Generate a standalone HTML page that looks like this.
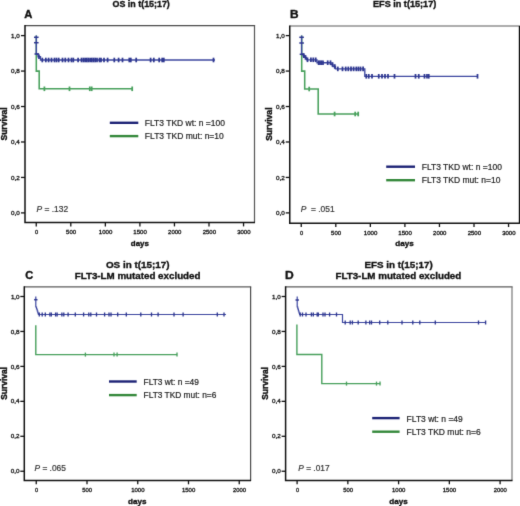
<!DOCTYPE html>
<html><head><meta charset="utf-8">
<style>
html,body{margin:0;padding:0;background:#fff;}
body{width:520px;height:506px;overflow:hidden;}
svg{display:block;font-family:'Liberation Sans', sans-serif;will-change:transform;}
</style></head>
<body>
<svg width="520" height="506" viewBox="0 0 520 506">
<defs><filter id="soft" x="0" y="0" width="520" height="506" filterUnits="userSpaceOnUse" color-interpolation-filters="sRGB"><feConvolveMatrix order="3" kernelMatrix="0.0100 0.0800 0.0100 0.0800 0.6400 0.0800 0.0100 0.0800 0.0100" edgeMode="duplicate" preserveAlpha="true"/></filter></defs>
<g filter="url(#soft)">
<rect width="520" height="506" fill="#fff"/>
<line x1="25" y1="25.6" x2="255.1" y2="25.6" stroke="#4a4a4a" stroke-width="1.2"/>
<line x1="254.5" y1="25.6" x2="254.5" y2="222.6" stroke="#555" stroke-width="1.2"/>
<path d="M25,25.0 V222.6 H255.0" fill="none" stroke="#111" stroke-width="1.5"/>
<line x1="21" y1="35.60" x2="25" y2="35.60" stroke="#111" stroke-width="1.3"/>
<text transform="translate(11.08,37.7) scale(1.0452,1)" font-size="6.0" font-weight="normal" fill="#151515" stroke="#151515" stroke-width="0.32" xml:space="preserve" >1,0</text>
<line x1="21" y1="71.06" x2="25" y2="71.06" stroke="#111" stroke-width="1.3"/>
<text transform="translate(11.00,73.16) scale(1.0545,1)" font-size="6.0" font-weight="normal" fill="#151515" stroke="#151515" stroke-width="0.32" xml:space="preserve" >0,8</text>
<line x1="21" y1="106.52" x2="25" y2="106.52" stroke="#111" stroke-width="1.3"/>
<text transform="translate(11.00,108.62) scale(1.0545,1)" font-size="6.0" font-weight="normal" fill="#151515" stroke="#151515" stroke-width="0.32" xml:space="preserve" >0,6</text>
<line x1="21" y1="141.98" x2="25" y2="141.98" stroke="#111" stroke-width="1.3"/>
<text transform="translate(11.00,144.08) scale(1.0545,1)" font-size="6.0" font-weight="normal" fill="#151515" stroke="#151515" stroke-width="0.32" xml:space="preserve" >0,4</text>
<line x1="21" y1="177.44" x2="25" y2="177.44" stroke="#111" stroke-width="1.3"/>
<text transform="translate(11.00,179.54) scale(1.0545,1)" font-size="6.0" font-weight="normal" fill="#151515" stroke="#151515" stroke-width="0.32" xml:space="preserve" >0,2</text>
<line x1="21" y1="212.90" x2="25" y2="212.90" stroke="#111" stroke-width="1.3"/>
<text transform="translate(11.00,215.0) scale(1.0545,1)" font-size="6.0" font-weight="normal" fill="#151515" stroke="#151515" stroke-width="0.32" xml:space="preserve" >0,0</text>
<line x1="36.25" y1="222.6" x2="36.25" y2="226.4" stroke="#111" stroke-width="1.3"/>
<text transform="translate(35.10,234.0) scale(0.9538,1)" font-size="6.0" font-weight="normal" fill="#151515" stroke="#151515" stroke-width="0.32" xml:space="preserve" >0</text>
<line x1="70.80" y1="222.6" x2="70.80" y2="226.4" stroke="#111" stroke-width="1.3"/>
<text transform="translate(66.10,234.0) scale(0.9949,1)" font-size="6.0" font-weight="normal" fill="#151515" stroke="#151515" stroke-width="0.32" xml:space="preserve" >500</text>
<line x1="105.35" y1="222.6" x2="105.35" y2="226.4" stroke="#111" stroke-width="1.3"/>
<text transform="translate(98.74,234.0) scale(1.0196,1)" font-size="6.0" font-weight="normal" fill="#151515" stroke="#151515" stroke-width="0.32" xml:space="preserve" >1000</text>
<line x1="139.90" y1="222.6" x2="139.90" y2="226.4" stroke="#111" stroke-width="1.3"/>
<text transform="translate(133.29,234.0) scale(1.0196,1)" font-size="6.0" font-weight="normal" fill="#151515" stroke="#151515" stroke-width="0.32" xml:space="preserve" >1500</text>
<line x1="174.45" y1="222.6" x2="174.45" y2="226.4" stroke="#111" stroke-width="1.3"/>
<text transform="translate(168.10,234.0) scale(1.0000,1)" font-size="6.0" font-weight="normal" fill="#151515" stroke="#151515" stroke-width="0.32" xml:space="preserve" >2000</text>
<line x1="209.00" y1="222.6" x2="209.00" y2="226.4" stroke="#111" stroke-width="1.3"/>
<text transform="translate(202.65,234.0) scale(1.0000,1)" font-size="6.0" font-weight="normal" fill="#151515" stroke="#151515" stroke-width="0.32" xml:space="preserve" >2500</text>
<line x1="243.55" y1="222.6" x2="243.55" y2="226.4" stroke="#111" stroke-width="1.3"/>
<text transform="translate(237.20,234.0) scale(1.0000,1)" font-size="6.0" font-weight="normal" fill="#151515" stroke="#151515" stroke-width="0.32" xml:space="preserve" >3000</text>
<text transform="translate(130.81,246) scale(0.9915,1)" font-size="8.0" font-weight="bold" fill="#111" stroke="#111" stroke-width="0.35" xml:space="preserve" >days</text>
<text transform="translate(6.9,140.55) rotate(-90) scale(1.0156,1)" font-size="8.4" font-weight="bold" fill="#111" stroke="#111" stroke-width="0.4">Survival</text>
<text transform="translate(24.14,17.7) scale(1.0483,1)" font-size="10.7" font-weight="bold" fill="#111" stroke="#111" stroke-width="0.35" xml:space="preserve" >A</text>
<text transform="translate(112.55,6.5) scale(0.9878,1)" font-size="9.0" font-weight="bold" fill="#111" stroke="#111" stroke-width="0.35" xml:space="preserve" >OS in t(15;17)</text>
<text transform="translate(36.46,212.0) scale(0.9631,1)" font-size="8.8" font-weight="normal" fill="#333" stroke="#333" stroke-width="0.2" xml:space="preserve" ><tspan font-style="italic">P</tspan> = .132</text>
<line x1="109.8" y1="122.8" x2="138.3" y2="122.8" stroke="#1c2275" stroke-width="2.4"/>
<line x1="109.8" y1="136.1" x2="138.3" y2="136.1" stroke="#34883a" stroke-width="2.4"/>
<text transform="translate(144.82,126.3) scale(0.9666,1)" font-size="8.8" font-weight="normal" fill="#222" stroke="#222" stroke-width="0.2" xml:space="preserve" >FLT3 TKD wt: n =100</text>
<text transform="translate(144.82,138.8) scale(0.9691,1)" font-size="8.8" font-weight="normal" fill="#222" stroke="#222" stroke-width="0.2" xml:space="preserve" >FLT3 TKD mut: n=10</text>
<path d="M36.3,35.6 V71.1 H39.2 V88.8 H132.5" fill="none" stroke="#48a05c" stroke-width="1.55"/>
<line x1="44.4" y1="86.5" x2="44.4" y2="91.1" stroke="#48a05c" stroke-width="1.75"/>
<line x1="69.5" y1="86.5" x2="69.5" y2="91.1" stroke="#48a05c" stroke-width="1.75"/>
<line x1="89.8" y1="86.5" x2="89.8" y2="91.1" stroke="#48a05c" stroke-width="1.75"/>
<line x1="91.7" y1="86.5" x2="91.7" y2="91.1" stroke="#48a05c" stroke-width="1.75"/>
<line x1="132.2" y1="86.5" x2="132.2" y2="91.1" stroke="#48a05c" stroke-width="1.75"/>
<path d="M36.3,35.6 V54.0 H38 V56.7 H40.5 V60 H215" fill="none" stroke="#3d47a0" stroke-width="1.35"/>
<line x1="42.3" y1="57.7" x2="42.3" y2="62.3" stroke="#2e3790" stroke-width="1.75"/>
<line x1="45.8" y1="57.7" x2="45.8" y2="62.3" stroke="#2e3790" stroke-width="1.75"/>
<line x1="48.6" y1="57.7" x2="48.6" y2="62.3" stroke="#2e3790" stroke-width="1.75"/>
<line x1="51.5" y1="57.7" x2="51.5" y2="62.3" stroke="#2e3790" stroke-width="1.75"/>
<line x1="54.5" y1="57.7" x2="54.5" y2="62.3" stroke="#2e3790" stroke-width="1.75"/>
<line x1="56.5" y1="57.7" x2="56.5" y2="62.3" stroke="#2e3790" stroke-width="1.75"/>
<line x1="58.7" y1="57.7" x2="58.7" y2="62.3" stroke="#2e3790" stroke-width="1.75"/>
<line x1="62.5" y1="57.7" x2="62.5" y2="62.3" stroke="#2e3790" stroke-width="1.75"/>
<line x1="65.3" y1="57.7" x2="65.3" y2="62.3" stroke="#2e3790" stroke-width="1.75"/>
<line x1="68.5" y1="57.7" x2="68.5" y2="62.3" stroke="#2e3790" stroke-width="1.75"/>
<line x1="71.5" y1="57.7" x2="71.5" y2="62.3" stroke="#2e3790" stroke-width="1.75"/>
<line x1="73.3" y1="57.7" x2="73.3" y2="62.3" stroke="#2e3790" stroke-width="1.75"/>
<line x1="78.1" y1="57.7" x2="78.1" y2="62.3" stroke="#2e3790" stroke-width="1.75"/>
<line x1="81.5" y1="57.7" x2="81.5" y2="62.3" stroke="#2e3790" stroke-width="1.75"/>
<line x1="83.4" y1="57.7" x2="83.4" y2="62.3" stroke="#2e3790" stroke-width="1.75"/>
<line x1="85.1" y1="57.7" x2="85.1" y2="62.3" stroke="#2e3790" stroke-width="1.75"/>
<line x1="86.7" y1="57.7" x2="86.7" y2="62.3" stroke="#2e3790" stroke-width="1.75"/>
<line x1="88.3" y1="57.7" x2="88.3" y2="62.3" stroke="#2e3790" stroke-width="1.75"/>
<line x1="90.1" y1="57.7" x2="90.1" y2="62.3" stroke="#2e3790" stroke-width="1.75"/>
<line x1="91.8" y1="57.7" x2="91.8" y2="62.3" stroke="#2e3790" stroke-width="1.75"/>
<line x1="93.5" y1="57.7" x2="93.5" y2="62.3" stroke="#2e3790" stroke-width="1.75"/>
<line x1="95.2" y1="57.7" x2="95.2" y2="62.3" stroke="#2e3790" stroke-width="1.75"/>
<line x1="97" y1="57.7" x2="97" y2="62.3" stroke="#2e3790" stroke-width="1.75"/>
<line x1="99.5" y1="57.7" x2="99.5" y2="62.3" stroke="#2e3790" stroke-width="1.75"/>
<line x1="101" y1="57.7" x2="101" y2="62.3" stroke="#2e3790" stroke-width="1.75"/>
<line x1="104" y1="57.7" x2="104" y2="62.3" stroke="#2e3790" stroke-width="1.75"/>
<line x1="107.6" y1="57.7" x2="107.6" y2="62.3" stroke="#2e3790" stroke-width="1.75"/>
<line x1="114.3" y1="57.7" x2="114.3" y2="62.3" stroke="#2e3790" stroke-width="1.75"/>
<line x1="118.6" y1="57.7" x2="118.6" y2="62.3" stroke="#2e3790" stroke-width="1.75"/>
<line x1="122.5" y1="57.7" x2="122.5" y2="62.3" stroke="#2e3790" stroke-width="1.75"/>
<line x1="129.3" y1="57.7" x2="129.3" y2="62.3" stroke="#2e3790" stroke-width="1.75"/>
<line x1="130.8" y1="57.7" x2="130.8" y2="62.3" stroke="#2e3790" stroke-width="1.75"/>
<line x1="136.2" y1="57.7" x2="136.2" y2="62.3" stroke="#2e3790" stroke-width="1.75"/>
<line x1="150.6" y1="57.7" x2="150.6" y2="62.3" stroke="#2e3790" stroke-width="1.75"/>
<line x1="153.8" y1="57.7" x2="153.8" y2="62.3" stroke="#2e3790" stroke-width="1.75"/>
<line x1="159.2" y1="57.7" x2="159.2" y2="62.3" stroke="#2e3790" stroke-width="1.75"/>
<line x1="162.2" y1="57.7" x2="162.2" y2="62.3" stroke="#2e3790" stroke-width="1.75"/>
<line x1="163.8" y1="57.7" x2="163.8" y2="62.3" stroke="#2e3790" stroke-width="1.75"/>
<line x1="213.5" y1="57.7" x2="213.5" y2="62.3" stroke="#2e3790" stroke-width="1.75"/>
<line x1="39" y1="54.400000000000006" x2="39" y2="59.0" stroke="#2e3790" stroke-width="1.75"/>
<line x1="34.0" y1="37.3" x2="38.599999999999994" y2="37.3" stroke="#2e3790" stroke-width="1.5"/>
<line x1="34.0" y1="42.7" x2="38.599999999999994" y2="42.7" stroke="#2e3790" stroke-width="1.5"/>
<line x1="34.5" y1="54.0" x2="39.099999999999994" y2="54.0" stroke="#2e3790" stroke-width="1.5"/>
<line x1="289.75" y1="26.0" x2="520.0" y2="26.0" stroke="#5a5a5a" stroke-width="1.2"/>
<line x1="519.4" y1="26.0" x2="519.4" y2="223.2" stroke="#111" stroke-width="1.2"/>
<path d="M289.75,25.4 V223.2 H519.9" fill="none" stroke="#111" stroke-width="1.5"/>
<line x1="285.75" y1="35.60" x2="289.75" y2="35.60" stroke="#111" stroke-width="1.3"/>
<text transform="translate(276.08,37.7) scale(1.0452,1)" font-size="6.0" font-weight="normal" fill="#151515" stroke="#151515" stroke-width="0.32" xml:space="preserve" >1,0</text>
<line x1="285.75" y1="71.06" x2="289.75" y2="71.06" stroke="#111" stroke-width="1.3"/>
<text transform="translate(276.00,73.16) scale(1.0545,1)" font-size="6.0" font-weight="normal" fill="#151515" stroke="#151515" stroke-width="0.32" xml:space="preserve" >0,8</text>
<line x1="285.75" y1="106.52" x2="289.75" y2="106.52" stroke="#111" stroke-width="1.3"/>
<text transform="translate(276.00,108.62) scale(1.0545,1)" font-size="6.0" font-weight="normal" fill="#151515" stroke="#151515" stroke-width="0.32" xml:space="preserve" >0,6</text>
<line x1="285.75" y1="141.98" x2="289.75" y2="141.98" stroke="#111" stroke-width="1.3"/>
<text transform="translate(276.00,144.08) scale(1.0545,1)" font-size="6.0" font-weight="normal" fill="#151515" stroke="#151515" stroke-width="0.32" xml:space="preserve" >0,4</text>
<line x1="285.75" y1="177.44" x2="289.75" y2="177.44" stroke="#111" stroke-width="1.3"/>
<text transform="translate(276.00,179.54) scale(1.0545,1)" font-size="6.0" font-weight="normal" fill="#151515" stroke="#151515" stroke-width="0.32" xml:space="preserve" >0,2</text>
<line x1="285.75" y1="212.90" x2="289.75" y2="212.90" stroke="#111" stroke-width="1.3"/>
<text transform="translate(276.00,215.0) scale(1.0545,1)" font-size="6.0" font-weight="normal" fill="#151515" stroke="#151515" stroke-width="0.32" xml:space="preserve" >0,0</text>
<line x1="301.25" y1="223.2" x2="301.25" y2="227.0" stroke="#111" stroke-width="1.3"/>
<text transform="translate(300.10,234.5) scale(0.9538,1)" font-size="6.0" font-weight="normal" fill="#151515" stroke="#151515" stroke-width="0.32" xml:space="preserve" >0</text>
<line x1="335.80" y1="223.2" x2="335.80" y2="227.0" stroke="#111" stroke-width="1.3"/>
<text transform="translate(331.10,234.5) scale(0.9949,1)" font-size="6.0" font-weight="normal" fill="#151515" stroke="#151515" stroke-width="0.32" xml:space="preserve" >500</text>
<line x1="370.35" y1="223.2" x2="370.35" y2="227.0" stroke="#111" stroke-width="1.3"/>
<text transform="translate(363.74,234.5) scale(1.0196,1)" font-size="6.0" font-weight="normal" fill="#151515" stroke="#151515" stroke-width="0.32" xml:space="preserve" >1000</text>
<line x1="404.90" y1="223.2" x2="404.90" y2="227.0" stroke="#111" stroke-width="1.3"/>
<text transform="translate(398.29,234.5) scale(1.0196,1)" font-size="6.0" font-weight="normal" fill="#151515" stroke="#151515" stroke-width="0.32" xml:space="preserve" >1500</text>
<line x1="439.45" y1="223.2" x2="439.45" y2="227.0" stroke="#111" stroke-width="1.3"/>
<text transform="translate(433.10,234.5) scale(1.0000,1)" font-size="6.0" font-weight="normal" fill="#151515" stroke="#151515" stroke-width="0.32" xml:space="preserve" >2000</text>
<line x1="474.00" y1="223.2" x2="474.00" y2="227.0" stroke="#111" stroke-width="1.3"/>
<text transform="translate(467.65,234.5) scale(1.0000,1)" font-size="6.0" font-weight="normal" fill="#151515" stroke="#151515" stroke-width="0.32" xml:space="preserve" >2500</text>
<line x1="508.55" y1="223.2" x2="508.55" y2="227.0" stroke="#111" stroke-width="1.3"/>
<text transform="translate(502.20,234.5) scale(1.0000,1)" font-size="6.0" font-weight="normal" fill="#151515" stroke="#151515" stroke-width="0.32" xml:space="preserve" >3000</text>
<text transform="translate(395.35,246.3) scale(1.0141,1)" font-size="8.0" font-weight="bold" fill="#111" stroke="#111" stroke-width="0.35" xml:space="preserve" >days</text>
<text transform="translate(271.9,140.86) rotate(-90) scale(1.0219,1)" font-size="8.4" font-weight="bold" fill="#111" stroke="#111" stroke-width="0.4">Survival</text>
<text transform="translate(290.04,17.5) scale(1.1111,1)" font-size="10.7" font-weight="bold" fill="#111" stroke="#111" stroke-width="0.35" xml:space="preserve" >B</text>
<text transform="translate(372.99,6.6) scale(1.0138,1)" font-size="9.0" font-weight="bold" fill="#111" stroke="#111" stroke-width="0.35" xml:space="preserve" >EFS in t(15;17)</text>
<text transform="translate(300.76,212.4) scale(0.9543,1)" font-size="8.8" font-weight="normal" fill="#333" stroke="#333" stroke-width="0.2" xml:space="preserve" ><tspan font-style="italic">P</tspan>  = .051</text>
<line x1="386.2" y1="166.7" x2="415.0" y2="166.7" stroke="#1c2275" stroke-width="2.4"/>
<line x1="386.2" y1="180.2" x2="415.0" y2="180.2" stroke="#34883a" stroke-width="2.4"/>
<text transform="translate(421.72,170.4) scale(0.9666,1)" font-size="8.8" font-weight="normal" fill="#222" stroke="#222" stroke-width="0.2" xml:space="preserve" >FLT3 TKD wt: n =100</text>
<text transform="translate(421.72,182.8) scale(0.9654,1)" font-size="8.8" font-weight="normal" fill="#222" stroke="#222" stroke-width="0.2" xml:space="preserve" >FLT3 TKD mut: n=10</text>
<path d="M301.7,35.6 V71.1 H304.7 V89 H318.2 V114 H358.6" fill="none" stroke="#48a05c" stroke-width="1.55"/>
<line x1="309.2" y1="86.7" x2="309.2" y2="91.3" stroke="#48a05c" stroke-width="1.75"/>
<line x1="334.6" y1="111.7" x2="334.6" y2="116.3" stroke="#48a05c" stroke-width="1.75"/>
<line x1="355.2" y1="111.7" x2="355.2" y2="116.3" stroke="#48a05c" stroke-width="1.75"/>
<line x1="358.2" y1="111.7" x2="358.2" y2="116.3" stroke="#48a05c" stroke-width="1.75"/>
<path d="M301.6,35.6 V54 H303 V55.7 H304.5 V57.4 H306.5 V59.8 H317 V62.7 H331 V64.5 H333 V66.5 H335.5 V68.9 H364.8 V76.3 H477.7" fill="none" stroke="#3d47a0" stroke-width="1.35"/>
<line x1="303.8" y1="53.400000000000006" x2="303.8" y2="58.0" stroke="#2e3790" stroke-width="1.75"/>
<line x1="305.5" y1="55.1" x2="305.5" y2="59.699999999999996" stroke="#2e3790" stroke-width="1.75"/>
<line x1="307.5" y1="57.5" x2="307.5" y2="62.099999999999994" stroke="#2e3790" stroke-width="1.75"/>
<line x1="310.9" y1="57.5" x2="310.9" y2="62.099999999999994" stroke="#2e3790" stroke-width="1.75"/>
<line x1="313.3" y1="57.5" x2="313.3" y2="62.099999999999994" stroke="#2e3790" stroke-width="1.75"/>
<line x1="315.7" y1="57.5" x2="315.7" y2="62.099999999999994" stroke="#2e3790" stroke-width="1.75"/>
<line x1="318.6" y1="60.400000000000006" x2="318.6" y2="65.0" stroke="#2e3790" stroke-width="1.75"/>
<line x1="320" y1="60.400000000000006" x2="320" y2="65.0" stroke="#2e3790" stroke-width="1.75"/>
<line x1="321.5" y1="60.400000000000006" x2="321.5" y2="65.0" stroke="#2e3790" stroke-width="1.75"/>
<line x1="323" y1="60.400000000000006" x2="323" y2="65.0" stroke="#2e3790" stroke-width="1.75"/>
<line x1="327.7" y1="60.400000000000006" x2="327.7" y2="65.0" stroke="#2e3790" stroke-width="1.75"/>
<line x1="330.5" y1="60.400000000000006" x2="330.5" y2="65.0" stroke="#2e3790" stroke-width="1.75"/>
<line x1="332.5" y1="62.2" x2="332.5" y2="66.8" stroke="#2e3790" stroke-width="1.75"/>
<line x1="334.8" y1="64.2" x2="334.8" y2="68.8" stroke="#2e3790" stroke-width="1.75"/>
<line x1="337.8" y1="66.60000000000001" x2="337.8" y2="71.2" stroke="#2e3790" stroke-width="1.75"/>
<line x1="342.5" y1="66.60000000000001" x2="342.5" y2="71.2" stroke="#2e3790" stroke-width="1.75"/>
<line x1="345.7" y1="66.60000000000001" x2="345.7" y2="71.2" stroke="#2e3790" stroke-width="1.75"/>
<line x1="348.3" y1="66.60000000000001" x2="348.3" y2="71.2" stroke="#2e3790" stroke-width="1.75"/>
<line x1="351" y1="66.60000000000001" x2="351" y2="71.2" stroke="#2e3790" stroke-width="1.75"/>
<line x1="353.6" y1="66.60000000000001" x2="353.6" y2="71.2" stroke="#2e3790" stroke-width="1.75"/>
<line x1="356.3" y1="66.60000000000001" x2="356.3" y2="71.2" stroke="#2e3790" stroke-width="1.75"/>
<line x1="358.4" y1="66.60000000000001" x2="358.4" y2="71.2" stroke="#2e3790" stroke-width="1.75"/>
<line x1="360.5" y1="66.60000000000001" x2="360.5" y2="71.2" stroke="#2e3790" stroke-width="1.75"/>
<line x1="363.1" y1="66.60000000000001" x2="363.1" y2="71.2" stroke="#2e3790" stroke-width="1.75"/>
<line x1="366.25" y1="74.0" x2="366.25" y2="78.6" stroke="#2e3790" stroke-width="1.75"/>
<line x1="368.75" y1="74.0" x2="368.75" y2="78.6" stroke="#2e3790" stroke-width="1.75"/>
<line x1="372" y1="74.0" x2="372" y2="78.6" stroke="#2e3790" stroke-width="1.75"/>
<line x1="378.75" y1="74.0" x2="378.75" y2="78.6" stroke="#2e3790" stroke-width="1.75"/>
<line x1="382" y1="74.0" x2="382" y2="78.6" stroke="#2e3790" stroke-width="1.75"/>
<line x1="385" y1="74.0" x2="385" y2="78.6" stroke="#2e3790" stroke-width="1.75"/>
<line x1="388" y1="74.0" x2="388" y2="78.6" stroke="#2e3790" stroke-width="1.75"/>
<line x1="394.5" y1="74.0" x2="394.5" y2="78.6" stroke="#2e3790" stroke-width="1.75"/>
<line x1="415.5" y1="74.0" x2="415.5" y2="78.6" stroke="#2e3790" stroke-width="1.75"/>
<line x1="418.75" y1="74.0" x2="418.75" y2="78.6" stroke="#2e3790" stroke-width="1.75"/>
<line x1="424.5" y1="74.0" x2="424.5" y2="78.6" stroke="#2e3790" stroke-width="1.75"/>
<line x1="427" y1="74.0" x2="427" y2="78.6" stroke="#2e3790" stroke-width="1.75"/>
<line x1="428.75" y1="74.0" x2="428.75" y2="78.6" stroke="#2e3790" stroke-width="1.75"/>
<line x1="477.5" y1="74.0" x2="477.5" y2="78.6" stroke="#2e3790" stroke-width="1.75"/>
<line x1="299.3" y1="37.3" x2="303.90000000000003" y2="37.3" stroke="#2e3790" stroke-width="1.5"/>
<line x1="299.3" y1="43.0" x2="303.90000000000003" y2="43.0" stroke="#2e3790" stroke-width="1.5"/>
<line x1="299.7" y1="54.3" x2="304.3" y2="54.3" stroke="#2e3790" stroke-width="1.5"/>
<line x1="24.3" y1="286.8" x2="251.2" y2="286.8" stroke="#5a5a5a" stroke-width="1.2"/>
<line x1="250.6" y1="286.8" x2="250.6" y2="480.5" stroke="#4a4a4a" stroke-width="1.2"/>
<path d="M24.3,286.2 V480.5 H251.1" fill="none" stroke="#111" stroke-width="1.5"/>
<line x1="20.3" y1="296.50" x2="24.3" y2="296.50" stroke="#111" stroke-width="1.3"/>
<text transform="translate(10.88,298.6) scale(1.0452,1)" font-size="6.0" font-weight="normal" fill="#151515" stroke="#151515" stroke-width="0.32" xml:space="preserve" >1,0</text>
<line x1="20.3" y1="331.45" x2="24.3" y2="331.45" stroke="#111" stroke-width="1.3"/>
<text transform="translate(10.80,333.55) scale(1.0545,1)" font-size="6.0" font-weight="normal" fill="#151515" stroke="#151515" stroke-width="0.32" xml:space="preserve" >0,8</text>
<line x1="20.3" y1="366.40" x2="24.3" y2="366.40" stroke="#111" stroke-width="1.3"/>
<text transform="translate(10.80,368.5) scale(1.0545,1)" font-size="6.0" font-weight="normal" fill="#151515" stroke="#151515" stroke-width="0.32" xml:space="preserve" >0,6</text>
<line x1="20.3" y1="401.35" x2="24.3" y2="401.35" stroke="#111" stroke-width="1.3"/>
<text transform="translate(10.80,403.45) scale(1.0545,1)" font-size="6.0" font-weight="normal" fill="#151515" stroke="#151515" stroke-width="0.32" xml:space="preserve" >0,4</text>
<line x1="20.3" y1="436.30" x2="24.3" y2="436.30" stroke="#111" stroke-width="1.3"/>
<text transform="translate(10.80,438.4) scale(1.0545,1)" font-size="6.0" font-weight="normal" fill="#151515" stroke="#151515" stroke-width="0.32" xml:space="preserve" >0,2</text>
<line x1="20.3" y1="471.25" x2="24.3" y2="471.25" stroke="#111" stroke-width="1.3"/>
<text transform="translate(10.80,473.35) scale(1.0545,1)" font-size="6.0" font-weight="normal" fill="#151515" stroke="#151515" stroke-width="0.32" xml:space="preserve" >0,0</text>
<line x1="36.25" y1="480.5" x2="36.25" y2="484.3" stroke="#111" stroke-width="1.3"/>
<text transform="translate(35.02,492.2) scale(0.9385,1)" font-size="6.0" font-weight="normal" fill="#151515" stroke="#151515" stroke-width="0.32" xml:space="preserve" >0</text>
<line x1="87.00" y1="480.5" x2="87.00" y2="484.3" stroke="#111" stroke-width="1.3"/>
<text transform="translate(82.27,492.2) scale(0.9805,1)" font-size="6.0" font-weight="normal" fill="#151515" stroke="#151515" stroke-width="0.32" xml:space="preserve" >500</text>
<line x1="137.75" y1="480.5" x2="137.75" y2="484.3" stroke="#111" stroke-width="1.3"/>
<text transform="translate(131.15,492.2) scale(1.0039,1)" font-size="6.0" font-weight="normal" fill="#151515" stroke="#151515" stroke-width="0.32" xml:space="preserve" >1000</text>
<line x1="188.50" y1="480.5" x2="188.50" y2="484.3" stroke="#111" stroke-width="1.3"/>
<text transform="translate(181.90,492.2) scale(1.0039,1)" font-size="6.0" font-weight="normal" fill="#151515" stroke="#151515" stroke-width="0.32" xml:space="preserve" >1500</text>
<line x1="239.25" y1="480.5" x2="239.25" y2="484.3" stroke="#111" stroke-width="1.3"/>
<text transform="translate(232.90,492.2) scale(0.9846,1)" font-size="6.0" font-weight="normal" fill="#151515" stroke="#151515" stroke-width="0.32" xml:space="preserve" >2000</text>
<text transform="translate(128.04,504.3) scale(1.0229,1)" font-size="7.9" font-weight="bold" fill="#111" stroke="#111" stroke-width="0.35" xml:space="preserve" >days</text>
<text transform="translate(6.9,399.74) rotate(-90) scale(0.9771,1)" font-size="8.6" font-weight="bold" fill="#111" stroke="#111" stroke-width="0.4">Survival</text>
<text transform="translate(25.34,278.75) scale(1.0345,1)" font-size="10.7" font-weight="bold" fill="#111" stroke="#111" stroke-width="0.35" xml:space="preserve" >C</text>
<text transform="translate(105.95,267.9) scale(0.9984,1)" font-size="9.9" font-weight="bold" fill="#111" stroke="#111" stroke-width="0.35" xml:space="preserve" >OS in t(15;17)</text>
<text transform="translate(74.71,279.2) scale(0.9885,1)" font-size="9.9" font-weight="bold" fill="#111" stroke="#111" stroke-width="0.35" xml:space="preserve" >FLT3-LM mutated excluded</text>
<text transform="translate(34.46,470.7) scale(0.9538,1)" font-size="8.8" font-weight="normal" fill="#333" stroke="#333" stroke-width="0.2" xml:space="preserve" ><tspan font-style="italic">P</tspan> = .065</text>
<line x1="109.0" y1="381.5" x2="136.7" y2="381.5" stroke="#1c2275" stroke-width="2.4"/>
<line x1="109.0" y1="395.1" x2="136.7" y2="395.1" stroke="#34883a" stroke-width="2.4"/>
<text transform="translate(143.52,385.3) scale(0.9522,1)" font-size="8.8" font-weight="normal" fill="#222" stroke="#222" stroke-width="0.2" xml:space="preserve" >FLT3 wt: n =49</text>
<text transform="translate(143.52,398.0) scale(0.9507,1)" font-size="8.8" font-weight="normal" fill="#222" stroke="#222" stroke-width="0.2" xml:space="preserve" >FLT3 TKD mut: n=6</text>
<path d="M35.8,325.3 V354.6 H177.1" fill="none" stroke="#48a05c" stroke-width="1.4"/>
<line x1="85.4" y1="352.6" x2="85.4" y2="356.6" stroke="#48a05c" stroke-width="1.35"/>
<line x1="114" y1="352.6" x2="114" y2="356.6" stroke="#48a05c" stroke-width="1.35"/>
<line x1="117.1" y1="352.6" x2="117.1" y2="356.6" stroke="#48a05c" stroke-width="1.35"/>
<line x1="177" y1="352.6" x2="177" y2="356.6" stroke="#48a05c" stroke-width="1.35"/>
<path d="M35.8,296.5 V307 H36.5 V309 H37.2 V311 H37.8 V313 H38.4 V314.5 H226" fill="none" stroke="#3d47a0" stroke-width="1.2"/>
<line x1="39.3" y1="312.5" x2="39.3" y2="316.5" stroke="#2e3790" stroke-width="1.35"/>
<line x1="42.2" y1="312.5" x2="42.2" y2="316.5" stroke="#2e3790" stroke-width="1.35"/>
<line x1="45.3" y1="312.5" x2="45.3" y2="316.5" stroke="#2e3790" stroke-width="1.35"/>
<line x1="49.9" y1="312.5" x2="49.9" y2="316.5" stroke="#2e3790" stroke-width="1.35"/>
<line x1="51.3" y1="312.5" x2="51.3" y2="316.5" stroke="#2e3790" stroke-width="1.35"/>
<line x1="55.6" y1="312.5" x2="55.6" y2="316.5" stroke="#2e3790" stroke-width="1.35"/>
<line x1="57.1" y1="312.5" x2="57.1" y2="316.5" stroke="#2e3790" stroke-width="1.35"/>
<line x1="61.9" y1="312.5" x2="61.9" y2="316.5" stroke="#2e3790" stroke-width="1.35"/>
<line x1="63.8" y1="312.5" x2="63.8" y2="316.5" stroke="#2e3790" stroke-width="1.35"/>
<line x1="68.1" y1="312.5" x2="68.1" y2="316.5" stroke="#2e3790" stroke-width="1.35"/>
<line x1="75.3" y1="312.5" x2="75.3" y2="316.5" stroke="#2e3790" stroke-width="1.35"/>
<line x1="83.6" y1="312.5" x2="83.6" y2="316.5" stroke="#2e3790" stroke-width="1.35"/>
<line x1="88.8" y1="312.5" x2="88.8" y2="316.5" stroke="#2e3790" stroke-width="1.35"/>
<line x1="90.8" y1="312.5" x2="90.8" y2="316.5" stroke="#2e3790" stroke-width="1.35"/>
<line x1="96.5" y1="312.5" x2="96.5" y2="316.5" stroke="#2e3790" stroke-width="1.35"/>
<line x1="104.6" y1="312.5" x2="104.6" y2="316.5" stroke="#2e3790" stroke-width="1.35"/>
<line x1="109" y1="312.5" x2="109" y2="316.5" stroke="#2e3790" stroke-width="1.35"/>
<line x1="111" y1="312.5" x2="111" y2="316.5" stroke="#2e3790" stroke-width="1.35"/>
<line x1="117.7" y1="312.5" x2="117.7" y2="316.5" stroke="#2e3790" stroke-width="1.35"/>
<line x1="126.3" y1="312.5" x2="126.3" y2="316.5" stroke="#2e3790" stroke-width="1.35"/>
<line x1="140.8" y1="312.5" x2="140.8" y2="316.5" stroke="#2e3790" stroke-width="1.35"/>
<line x1="151.5" y1="312.5" x2="151.5" y2="316.5" stroke="#2e3790" stroke-width="1.35"/>
<line x1="158.1" y1="312.5" x2="158.1" y2="316.5" stroke="#2e3790" stroke-width="1.35"/>
<line x1="174" y1="312.5" x2="174" y2="316.5" stroke="#2e3790" stroke-width="1.35"/>
<line x1="183.1" y1="312.5" x2="183.1" y2="316.5" stroke="#2e3790" stroke-width="1.35"/>
<line x1="217.3" y1="312.5" x2="217.3" y2="316.5" stroke="#2e3790" stroke-width="1.35"/>
<line x1="224" y1="312.5" x2="224" y2="316.5" stroke="#2e3790" stroke-width="1.35"/>
<line x1="34.099999999999994" y1="299.7" x2="37.5" y2="299.7" stroke="#2e3790" stroke-width="1.5"/>
<line x1="285.6" y1="286.8" x2="512.6" y2="286.8" stroke="#5a5a5a" stroke-width="1.2"/>
<line x1="512.0" y1="286.8" x2="512.0" y2="480.5" stroke="#777" stroke-width="1.2"/>
<path d="M285.6,286.2 V480.5 H512.5" fill="none" stroke="#111" stroke-width="1.5"/>
<line x1="281.6" y1="296.50" x2="285.6" y2="296.50" stroke="#111" stroke-width="1.3"/>
<text transform="translate(272.08,298.6) scale(1.0452,1)" font-size="6.0" font-weight="normal" fill="#151515" stroke="#151515" stroke-width="0.32" xml:space="preserve" >1,0</text>
<line x1="281.6" y1="331.45" x2="285.6" y2="331.45" stroke="#111" stroke-width="1.3"/>
<text transform="translate(272.00,333.55) scale(1.0545,1)" font-size="6.0" font-weight="normal" fill="#151515" stroke="#151515" stroke-width="0.32" xml:space="preserve" >0,8</text>
<line x1="281.6" y1="366.40" x2="285.6" y2="366.40" stroke="#111" stroke-width="1.3"/>
<text transform="translate(272.00,368.5) scale(1.0545,1)" font-size="6.0" font-weight="normal" fill="#151515" stroke="#151515" stroke-width="0.32" xml:space="preserve" >0,6</text>
<line x1="281.6" y1="401.35" x2="285.6" y2="401.35" stroke="#111" stroke-width="1.3"/>
<text transform="translate(272.00,403.45) scale(1.0545,1)" font-size="6.0" font-weight="normal" fill="#151515" stroke="#151515" stroke-width="0.32" xml:space="preserve" >0,4</text>
<line x1="281.6" y1="436.30" x2="285.6" y2="436.30" stroke="#111" stroke-width="1.3"/>
<text transform="translate(272.00,438.4) scale(1.0545,1)" font-size="6.0" font-weight="normal" fill="#151515" stroke="#151515" stroke-width="0.32" xml:space="preserve" >0,2</text>
<line x1="281.6" y1="471.25" x2="285.6" y2="471.25" stroke="#111" stroke-width="1.3"/>
<text transform="translate(272.00,473.35) scale(1.0545,1)" font-size="6.0" font-weight="normal" fill="#151515" stroke="#151515" stroke-width="0.32" xml:space="preserve" >0,0</text>
<line x1="297.10" y1="480.5" x2="297.10" y2="484.3" stroke="#111" stroke-width="1.3"/>
<text transform="translate(295.88,492.2) scale(0.9385,1)" font-size="6.0" font-weight="normal" fill="#151515" stroke="#151515" stroke-width="0.32" xml:space="preserve" >0</text>
<line x1="347.85" y1="480.5" x2="347.85" y2="484.3" stroke="#111" stroke-width="1.3"/>
<text transform="translate(343.14,492.2) scale(0.9795,1)" font-size="6.0" font-weight="normal" fill="#151515" stroke="#151515" stroke-width="0.32" xml:space="preserve" >500</text>
<line x1="398.60" y1="480.5" x2="398.60" y2="484.3" stroke="#111" stroke-width="1.3"/>
<text transform="translate(392.00,492.2) scale(1.0039,1)" font-size="6.0" font-weight="normal" fill="#151515" stroke="#151515" stroke-width="0.32" xml:space="preserve" >1000</text>
<line x1="449.35" y1="480.5" x2="449.35" y2="484.3" stroke="#111" stroke-width="1.3"/>
<text transform="translate(442.75,492.2) scale(1.0039,1)" font-size="6.0" font-weight="normal" fill="#151515" stroke="#151515" stroke-width="0.32" xml:space="preserve" >1500</text>
<line x1="500.10" y1="480.5" x2="500.10" y2="484.3" stroke="#111" stroke-width="1.3"/>
<text transform="translate(493.75,492.2) scale(0.9846,1)" font-size="6.0" font-weight="normal" fill="#151515" stroke="#151515" stroke-width="0.32" xml:space="preserve" >2000</text>
<text transform="translate(389.24,504.3) scale(1.0229,1)" font-size="7.9" font-weight="bold" fill="#111" stroke="#111" stroke-width="0.35" xml:space="preserve" >days</text>
<text transform="translate(268.1,399.74) rotate(-90) scale(0.9771,1)" font-size="8.6" font-weight="bold" fill="#111" stroke="#111" stroke-width="0.4">Survival</text>
<text transform="translate(285.04,278.75) scale(1.1286,1)" font-size="10.7" font-weight="bold" fill="#111" stroke="#111" stroke-width="0.35" xml:space="preserve" >D</text>
<text transform="translate(364.50,267.9) scale(0.9934,1)" font-size="9.9" font-weight="bold" fill="#111" stroke="#111" stroke-width="0.35" xml:space="preserve" >EFS in t(15;17)</text>
<text transform="translate(335.51,279.1) scale(0.9885,1)" font-size="9.9" font-weight="bold" fill="#111" stroke="#111" stroke-width="0.35" xml:space="preserve" >FLT3-LM mutated excluded</text>
<text transform="translate(298.26,470.6) scale(0.9477,1)" font-size="8.8" font-weight="normal" fill="#333" stroke="#333" stroke-width="0.2" xml:space="preserve" ><tspan font-style="italic">P</tspan> = .017</text>
<line x1="372.2" y1="418.1" x2="399.6" y2="418.1" stroke="#1c2275" stroke-width="2.4"/>
<line x1="372.2" y1="431.7" x2="399.6" y2="431.7" stroke="#34883a" stroke-width="2.4"/>
<text transform="translate(406.62,422.1) scale(0.9635,1)" font-size="8.8" font-weight="normal" fill="#222" stroke="#222" stroke-width="0.2" xml:space="preserve" >FLT3 wt: n =49</text>
<text transform="translate(406.62,435.1) scale(0.9658,1)" font-size="8.8" font-weight="normal" fill="#222" stroke="#222" stroke-width="0.2" xml:space="preserve" >FLT3 TKD mut: n=6</text>
<path d="M296.9,324.6 V354.5 H321.8 V383.6 H380.2" fill="none" stroke="#48a05c" stroke-width="1.4"/>
<line x1="346.5" y1="381.6" x2="346.5" y2="385.6" stroke="#48a05c" stroke-width="1.35"/>
<line x1="376.5" y1="381.6" x2="376.5" y2="385.6" stroke="#48a05c" stroke-width="1.35"/>
<line x1="380" y1="381.6" x2="380" y2="385.6" stroke="#48a05c" stroke-width="1.35"/>
<path d="M297.2,296.5 V307 H297.8 V309 H298.4 V311 H299 V313 H299.6 V314.5 H342.5 V322.5 H485.8" fill="none" stroke="#3d47a0" stroke-width="1.2"/>
<line x1="300.2" y1="312.5" x2="300.2" y2="316.5" stroke="#2e3790" stroke-width="1.35"/>
<line x1="302.5" y1="312.5" x2="302.5" y2="316.5" stroke="#2e3790" stroke-width="1.35"/>
<line x1="306" y1="312.5" x2="306" y2="316.5" stroke="#2e3790" stroke-width="1.35"/>
<line x1="311.4" y1="312.5" x2="311.4" y2="316.5" stroke="#2e3790" stroke-width="1.35"/>
<line x1="313.3" y1="312.5" x2="313.3" y2="316.5" stroke="#2e3790" stroke-width="1.35"/>
<line x1="317.2" y1="312.5" x2="317.2" y2="316.5" stroke="#2e3790" stroke-width="1.35"/>
<line x1="318.3" y1="312.5" x2="318.3" y2="316.5" stroke="#2e3790" stroke-width="1.35"/>
<line x1="323" y1="312.5" x2="323" y2="316.5" stroke="#2e3790" stroke-width="1.35"/>
<line x1="325" y1="312.5" x2="325" y2="316.5" stroke="#2e3790" stroke-width="1.35"/>
<line x1="329.6" y1="312.5" x2="329.6" y2="316.5" stroke="#2e3790" stroke-width="1.35"/>
<line x1="336.5" y1="312.5" x2="336.5" y2="316.5" stroke="#2e3790" stroke-width="1.35"/>
<line x1="345.2" y1="320.5" x2="345.2" y2="324.5" stroke="#2e3790" stroke-width="1.35"/>
<line x1="350.2" y1="320.5" x2="350.2" y2="324.5" stroke="#2e3790" stroke-width="1.35"/>
<line x1="352.4" y1="320.5" x2="352.4" y2="324.5" stroke="#2e3790" stroke-width="1.35"/>
<line x1="358.2" y1="320.5" x2="358.2" y2="324.5" stroke="#2e3790" stroke-width="1.35"/>
<line x1="365.9" y1="320.5" x2="365.9" y2="324.5" stroke="#2e3790" stroke-width="1.35"/>
<line x1="369.7" y1="320.5" x2="369.7" y2="324.5" stroke="#2e3790" stroke-width="1.35"/>
<line x1="371.5" y1="320.5" x2="371.5" y2="324.5" stroke="#2e3790" stroke-width="1.35"/>
<line x1="379.7" y1="320.5" x2="379.7" y2="324.5" stroke="#2e3790" stroke-width="1.35"/>
<line x1="387.8" y1="320.5" x2="387.8" y2="324.5" stroke="#2e3790" stroke-width="1.35"/>
<line x1="402" y1="320.5" x2="402" y2="324.5" stroke="#2e3790" stroke-width="1.35"/>
<line x1="412.8" y1="320.5" x2="412.8" y2="324.5" stroke="#2e3790" stroke-width="1.35"/>
<line x1="419.8" y1="320.5" x2="419.8" y2="324.5" stroke="#2e3790" stroke-width="1.35"/>
<line x1="435.3" y1="320.5" x2="435.3" y2="324.5" stroke="#2e3790" stroke-width="1.35"/>
<line x1="478.5" y1="320.5" x2="478.5" y2="324.5" stroke="#2e3790" stroke-width="1.35"/>
<line x1="485.6" y1="320.5" x2="485.6" y2="324.5" stroke="#2e3790" stroke-width="1.35"/>
<line x1="295.5" y1="300" x2="298.9" y2="300" stroke="#2e3790" stroke-width="1.5"/>
</g>
</svg>
</body></html>
